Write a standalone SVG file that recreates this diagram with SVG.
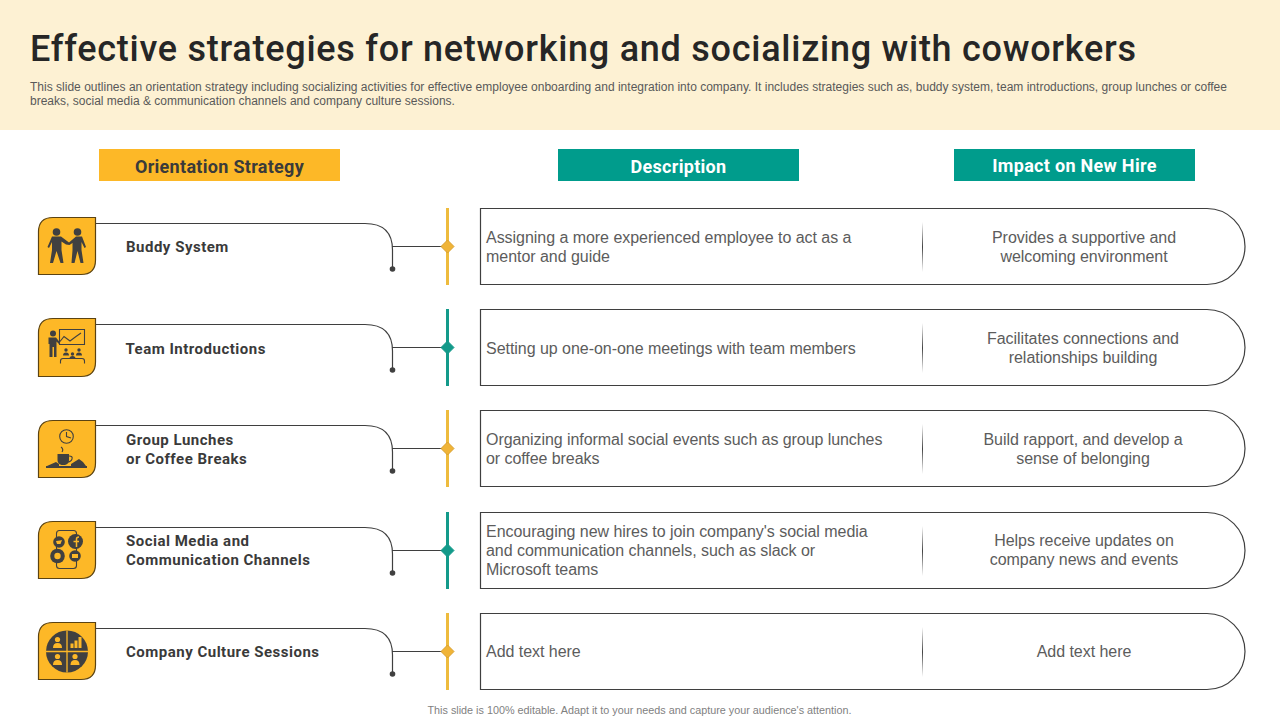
<svg xmlns="http://www.w3.org/2000/svg" width="1280" height="720" viewBox="0 0 1280 720">
<style>
text{font-family:"Liberation Sans",Arial,sans-serif}
.din{font-family:Roboto,"Liberation Sans",sans-serif;font-weight:700}
.t{font-size:16px;fill:#5c5c5c;letter-spacing:-.04px}
.m{text-anchor:middle}
.n{font-size:15px;fill:#3a3a3a;letter-spacing:.5px}
.h{font-size:18px;text-anchor:middle;letter-spacing:.3px}
.box{fill:#fff;stroke:#3f3f3f;stroke-width:1.2}
.ic{fill:#fdb827;stroke:#5b4312;stroke-width:1.2}
.ln{fill:none;stroke:#3f3f3f;stroke-width:1.2}
.d{fill:#404040}
.o{fill:none;stroke:#404040;stroke-width:1.1}
.c{fill:#fdb827}
.y{stroke:#eebb3d;stroke-width:3}.yd{fill:#f0b437;stroke:#d9a02f}
.g{stroke:#139a8a;stroke-width:3}.gd{fill:#139a8a;stroke:#139a8a}
</style>
<defs>
<linearGradient id="sep" x1="0" y1="0" x2="0" y2="1"><stop offset="0" stop-color="#444" stop-opacity="0"/><stop offset=".5" stop-color="#444"/><stop offset="1" stop-color="#444" stop-opacity="0"/></linearGradient>
<path id="tile" d="M38.500 232Q38.500 217.500 53 217.500H95.500V260Q95.500 274.500 81 274.500H38.500Z"/>
<path id="lead" d="M96 223.500H365Q392.500 223.500 392.500 250V269M392.500 246.500H446"/>
<path id="card" d="M480.500 208.500H1207A38 38 0 0 1 1207 284.500H480.500Z"/>
<path id="dia" d="M447.500 240L454 246.500L447.500 253L441 246.500Z"/>
<g id="person"><circle cx="0" cy="-4.500" r="2.600"/><path d="M-4.500 4Q-4.500-1 0-1T4.500 4Z"/></g>
</defs>
<rect width="1280" height="130" fill="#fdf1d3"/>
<text id="title" class="din" x="30" y="61" font-size="36" style="font-weight:500" textLength="1106" lengthAdjust="spacing" fill="#262626">Effective strategies for networking and socializing with coworkers</text>
<text font-size="12" fill="#595959" letter-spacing=".01"><tspan x="30" y="91">This slide outlines an orientation strategy including socializing activities for effective employee onboarding and integration into company. It includes strategies such as, buddy system, team introductions, group lunches or coffee</tspan><tspan x="30" y="105">breaks, social media &amp; communication channels and company culture sessions.</tspan></text>

<g id="hdr-strategy"><rect x="99" y="149" width="241" height="32" fill="#fdb827"/><text class="din h" x="219.500" y="173" fill="#3a3a3a">Orientation Strategy</text></g>
<g id="hdr-description"><rect x="558" y="149" width="241" height="32" fill="#009c8c"/><text class="din h" x="678.500" y="173" fill="#fff">Description</text></g>
<g id="hdr-impact"><rect x="954" y="149" width="241" height="32" fill="#009c8c"/><text class="din h" x="1074.500" y="172" fill="#fff">Impact on New Hire</text></g>

<g id="connectors">
<g><use href="#lead" class="ln"/><circle cx="392.500" cy="269" r="2.800" class="d"/><path d="M447.500 208V285" class="y"/><use href="#dia" class="yd"/></g>
<g transform="translate(0 101)"><use href="#lead" class="ln"/><circle cx="392.500" cy="269" r="2.800" class="d"/><path d="M447.500 208V285" class="g"/><use href="#dia" class="gd"/></g>
<g transform="translate(0 202)"><use href="#lead" class="ln"/><circle cx="392.500" cy="269" r="2.800" class="d"/><path d="M447.500 208V285" class="y"/><use href="#dia" class="yd"/></g>
<g transform="translate(0 304)"><use href="#lead" class="ln"/><circle cx="392.500" cy="269" r="2.800" class="d"/><path d="M447.500 208V285" class="g"/><use href="#dia" class="gd"/></g>
<g transform="translate(0 405)"><use href="#lead" class="ln"/><circle cx="392.500" cy="269" r="2.800" class="d"/><path d="M447.500 208V285" class="y"/><use href="#dia" class="yd"/></g>
</g>

<g id="node-buddy">
<use href="#tile" class="ic"/>
<g class="d"><circle cx="56.500" cy="232" r="3.800"/><circle cx="77.500" cy="232" r="3.800"/>
<path d="M52 236.500H61L69 242.500L76 236.500H82L86 247L84.500 248L81.500 242V250L83.500 263H80.500L77.500 251L74.500 263H71.500L72.500 250V243L69.500 245L66 244.500L61.500 241.500V250L63.500 263H60.500L56.500 251L53 263H50L52 250V242L49 248L47.500 247Z"/></g>
<text class="din n" x="126" y="252">Buddy System</text>
</g>

<g id="node-team">
<path d="M38.500 333Q38.500 318.500 53 318.500H95.500V362Q95.500 376.500 81 376.500H38.500Z" class="ic"/>
<g class="d"><circle cx="53" cy="333.500" r="3"/><path d="M48.500 337.500H56L60 342.500L59 344L56.500 341.500V357H54V347H52.500V357H49.500V344H48.500Z"/></g>
<path d="M59.500 329.500H84.500V344.500H59.500ZM60 341.500L64 336.500L70 341L76 336.500L81 333" class="o"/>
<path d="M60.500 363.500V361Q60.500 358.500 63 358.500H82Q84.500 358.500 84.500 361V363.500" class="o"/>
<g class="d"><circle cx="66" cy="350" r="1.700"/><circle cx="72.500" cy="354" r="1.700"/><circle cx="79" cy="350" r="1.700"/><path d="M63 355.500Q63 352.500 66 352.500T69 355.500ZM69.500 358.500Q69.500 356 72.500 356T75.500 358.500ZM76 355.500Q76 352.500 79 352.500T82 355.500Z"/></g>
<text class="din n" x="125.500" y="354">Team Introductions</text>
</g>

<g id="node-lunch">
<path d="M38.500 435Q38.500 420.500 53 420.500H95.500V463Q95.500 477.500 81 477.500H38.500Z" class="ic"/>
<circle cx="66.500" cy="436.500" r="6.800" class="o"/><path d="M66.500 432V436.500L71 438" class="o"/>
<g class="d"><path d="M57.500 454H69V460Q69 464 65 465H61.500Q57.500 464 57.500 460Z"/><path d="M46 468H87V466H46ZM47 466L56 462L59 464V466ZM71 466V464L79 459L83 462L86 466Z"/></g>
<path d="M69 456Q73 456 72 459T67 462M61 447Q64 449 62 452" class="o"/>
<text class="din n"><tspan x="126" y="445">Group Lunches</tspan><tspan x="126" y="464">or Coffee Breaks</tspan></text>
</g>

<g id="node-social">
<path d="M38.500 536Q38.500 521.500 53 521.500H95.500V564Q95.500 578.500 81 578.500H38.500Z" class="ic"/>
<rect x="56.500" y="530.500" width="20" height="38" rx="3" class="o"/>
<g class="d"><circle cx="59" cy="542" r="5.800"/><circle cx="75.500" cy="541.500" r="7.500"/><circle cx="57.500" cy="556" r="7.300"/><circle cx="75" cy="556" r="5.800"/></g>
<path d="M76.500 547V539Q76.500 537 79 537M73.500 541.500H79" fill="none" stroke="#fdb827" stroke-width="1.500"/>
<path d="M56 541L60 540.500L62 540L60.500 544L57 544Z" class="c"/><circle cx="57.500" cy="556" r="3.200" class="c"/><rect x="72" y="554" width="6" height="4" class="c"/>
<text class="din n"><tspan x="126" y="546">Social Media and</tspan><tspan x="126" y="565">Communication Channels</tspan></text>
</g>

<g id="node-culture">
<path d="M38.500 637Q38.500 622.500 53 622.500H95.500V665Q95.500 679.500 81 679.500H38.500Z" class="ic"/>
<circle cx="67" cy="651.500" r="21" class="d"/>
<path d="M46 651.500H88M67 630.500V672.500" stroke="#fdb827" stroke-width="1.300"/>
<g class="c"><use href="#person" x="57.500" y="644"/><use href="#person" x="57.500" y="661"/><use href="#person" x="75" y="661"/><path d="M70.500 648H73.500V643.500H70.500ZM74.500 648H77.500V640.500H74.500ZM78.500 648H81.500V637H78.500Z"/></g>
<text class="din n" x="126" y="657">Company Culture Sessions</text>
</g>

<g id="row-1"><use href="#card" class="box"/><rect x="922" y="222" width="1" height="50" fill="url(#sep)"/>
<text class="t"><tspan x="486" y="243">Assigning a more experienced employee to act as a</tspan><tspan x="486" y="262">mentor and guide</tspan></text>
<text class="t m"><tspan x="1084" y="243">Provides a supportive and</tspan><tspan x="1084" y="262">welcoming environment</tspan></text></g>
<g id="row-2"><use href="#card" class="box" y="101"/><rect x="922" y="323" width="1" height="50" fill="url(#sep)"/>
<text class="t" x="486" y="354">Setting up one-on-one meetings with team members</text>
<text class="t m"><tspan x="1083" y="344">Facilitates connections and</tspan><tspan x="1083" y="363">relationships building</tspan></text></g>
<g id="row-3"><use href="#card" class="box" y="202"/><rect x="922" y="424" width="1" height="50" fill="url(#sep)"/>
<text class="t" style="letter-spacing:-.07px"><tspan x="486" y="445">Organizing informal social events such as group lunches</tspan><tspan x="486" y="464">or coffee breaks</tspan></text>
<text class="t m"><tspan x="1083" y="445">Build rapport, and develop a</tspan><tspan x="1083" y="464">sense of belonging</tspan></text></g>
<g id="row-4"><use href="#card" class="box" y="304"/><rect x="922" y="526" width="1" height="50" fill="url(#sep)"/>
<text class="t"><tspan x="486" y="537">Encouraging new hires to join company's social media</tspan><tspan x="486" y="556">and communication channels, such as slack or</tspan><tspan x="486" y="575">Microsoft teams</tspan></text>
<text class="t m"><tspan x="1084" y="546">Helps receive updates on</tspan><tspan x="1084" y="565">company news and events</tspan></text></g>
<g id="row-5"><use href="#card" class="box" y="405"/><rect x="922" y="627" width="1" height="50" fill="url(#sep)"/>
<text class="t" x="486" y="657">Add text here</text>
<text class="t m" x="1084" y="657">Add text here</text></g>

<text x="639.500" y="714" font-size="10.800" fill="#7f7f7f" text-anchor="middle">This slide is 100% editable. Adapt it to your needs and capture your audience's attention.</text>
</svg>
